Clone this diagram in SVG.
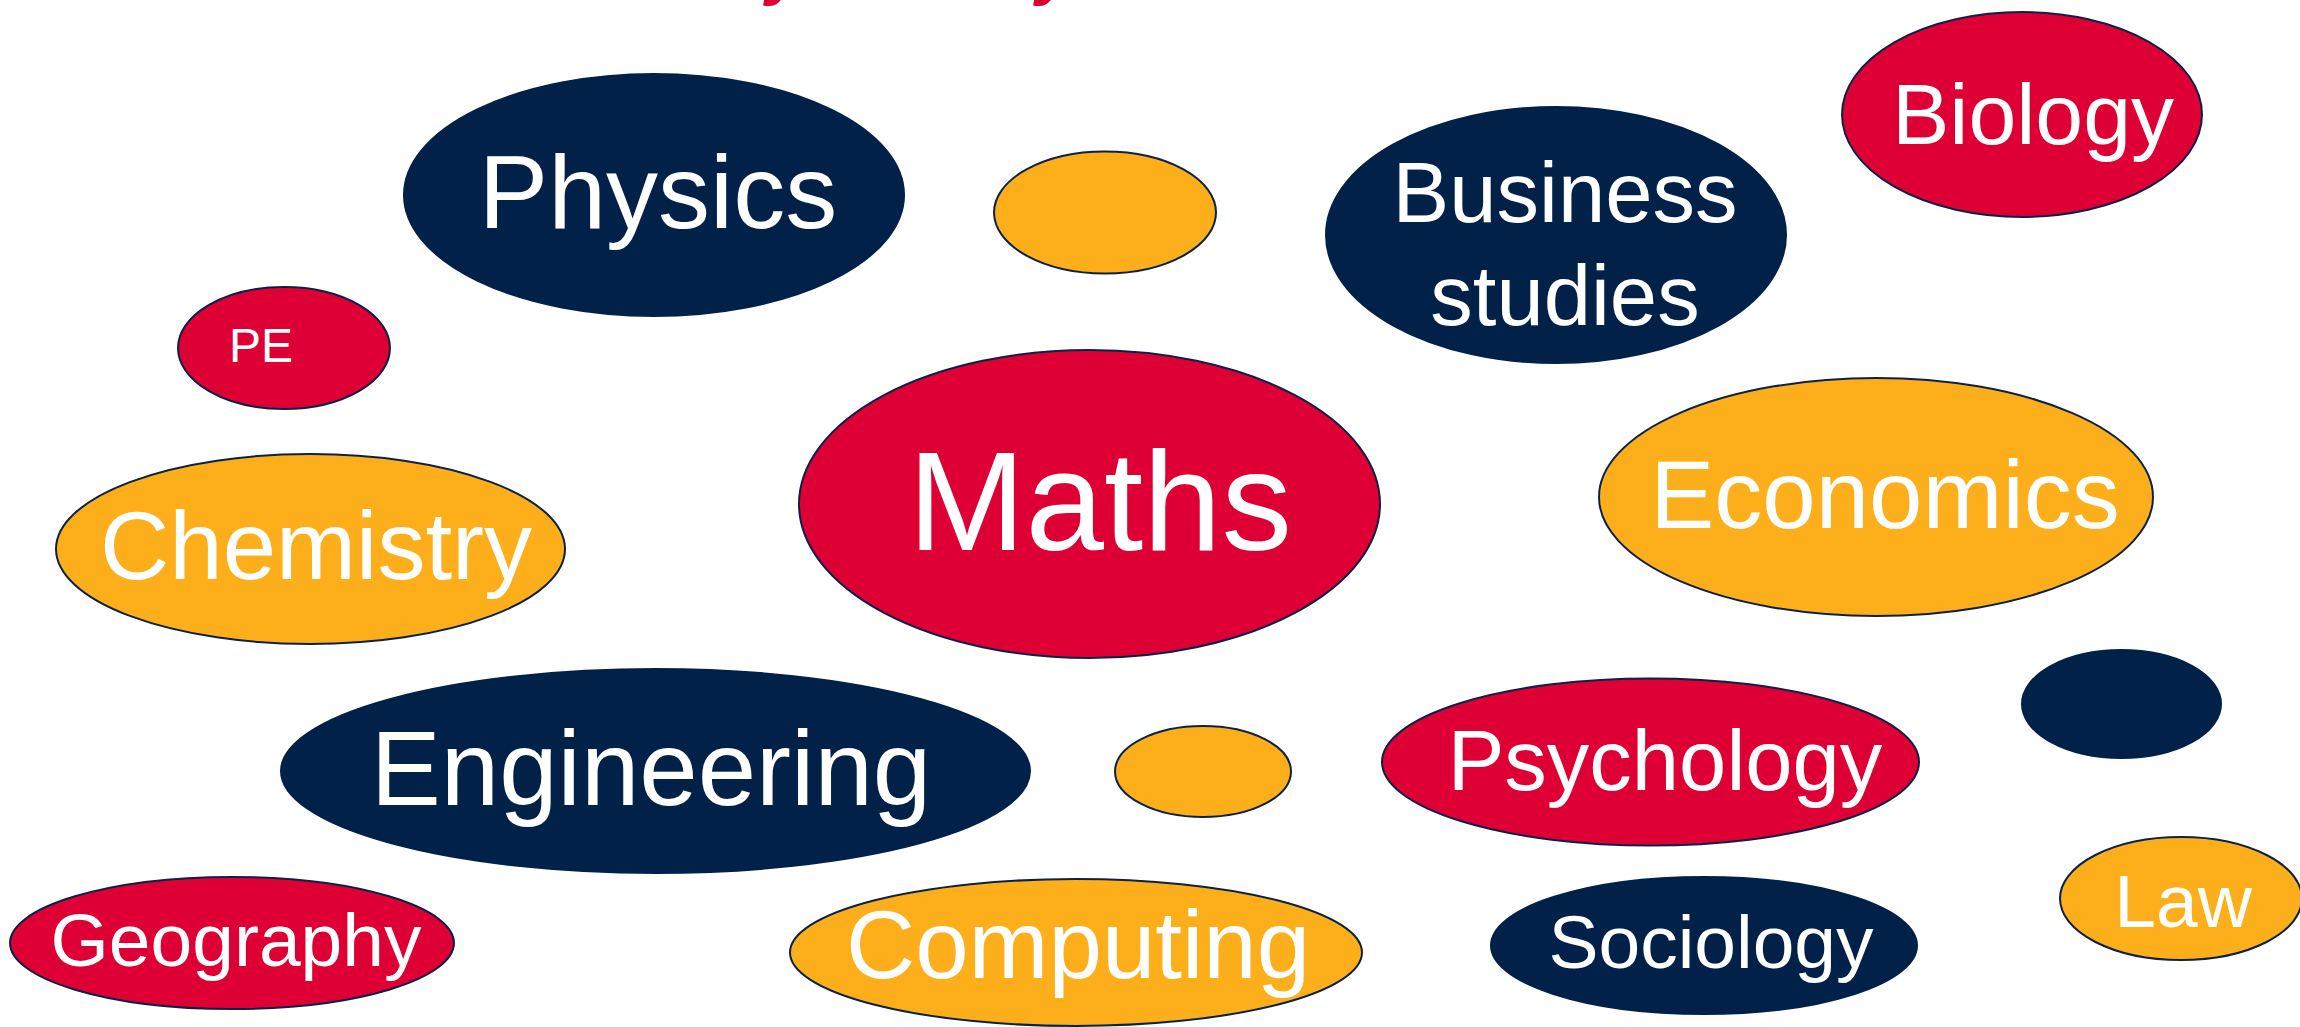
<svg xmlns="http://www.w3.org/2000/svg" width="2300" height="1027" viewBox="0 0 2300 1027">
<style>
  .red { fill: #DE0034; stroke: #0B2148; stroke-width: 2; }
  .navy { fill: #012148; stroke: #012148; stroke-width: 2; }
  .orange { fill: #FCAF1B; stroke: #0B2148; stroke-width: 2; }
  .lbl { fill: #FFFFFF; font-family: "Liberation Sans", Arial, sans-serif; text-anchor: middle; }
  .title { fill: #DE0034; font-family: "Liberation Sans", Arial, sans-serif; font-weight: bold; font-style: italic; font-size: 70px; }
</style>
<rect width="2300" height="1027" fill="#FFFFFF"/>
<g id="title-fragments">
  <text class="title" x="766" y="-9">y</text>
  <text class="title" x="1036" y="-9">y</text>
</g>
<g id="connectors"></g>
<g id="physics">
  <ellipse class="navy" cx="654" cy="195" rx="250" ry="121"/>
  <text class="lbl" x="658" y="228" font-size="104">Physics</text>
</g>
<g id="orange-top">
  <ellipse class="orange" cx="1105" cy="212.5" rx="111" ry="61"/>
</g>
<g id="business-studies">
  <ellipse class="navy" cx="1556" cy="235" rx="230" ry="128"/>
  <text class="lbl" x="1565" y="222" font-size="85">Business</text>
  <text class="lbl" x="1565" y="325" font-size="85">studies</text>
</g>
<g id="biology">
  <ellipse class="red" cx="2022" cy="114.5" rx="180" ry="102.5"/>
  <text class="lbl" x="2033" y="144" font-size="86">Biology</text>
</g>
<g id="pe">
  <ellipse class="red" cx="284" cy="348" rx="106" ry="61"/>
  <text class="lbl" x="261" y="362" font-size="48">PE</text>
</g>
<g id="chemistry">
  <ellipse class="orange" cx="310.5" cy="549" rx="254.5" ry="95"/>
  <text class="lbl" x="316" y="579" font-size="96">Chemistry</text>
</g>
<g id="maths">
  <ellipse class="red" cx="1089.5" cy="504" rx="290.5" ry="154"/>
  <text class="lbl" x="1100" y="550" font-size="141">Maths</text>
</g>
<g id="economics">
  <ellipse class="orange" cx="1876" cy="497" rx="277" ry="119"/>
  <text class="lbl" x="1885" y="528" font-size="96">Economics</text>
</g>
<g id="navy-small">
  <ellipse class="navy" cx="2121.5" cy="704" rx="99.5" ry="54"/>
</g>
<g id="engineering">
  <ellipse class="navy" cx="655.5" cy="771" rx="374.5" ry="102"/>
  <text class="lbl" x="651" y="805" font-size="105">Engineering</text>
</g>
<g id="orange-middle">
  <ellipse class="orange" cx="1203" cy="771.5" rx="88" ry="45.5"/>
</g>
<g id="psychology">
  <ellipse class="red" cx="1650.5" cy="762" rx="268.5" ry="83.5"/>
  <text class="lbl" x="1665" y="790" font-size="85">Psychology</text>
</g>
<g id="geography">
  <ellipse class="red" cx="232" cy="943" rx="222" ry="66"/>
  <text class="lbl" x="236" y="966" font-size="75">Geography</text>
</g>
<g id="computing">
  <ellipse class="orange" cx="1076" cy="952.5" rx="286" ry="73.5"/>
  <text class="lbl" x="1078" y="978" font-size="96">Computing</text>
</g>
<g id="sociology">
  <ellipse class="navy" cx="1704" cy="945.5" rx="213" ry="68.5"/>
  <text class="lbl" x="1711" y="968" font-size="75">Sociology</text>
</g>
<g id="law">
  <ellipse class="orange" cx="2181" cy="898.5" rx="121" ry="61.5"/>
  <text class="lbl" x="2183" y="927" font-size="75">Law</text>
</g>
</svg>
